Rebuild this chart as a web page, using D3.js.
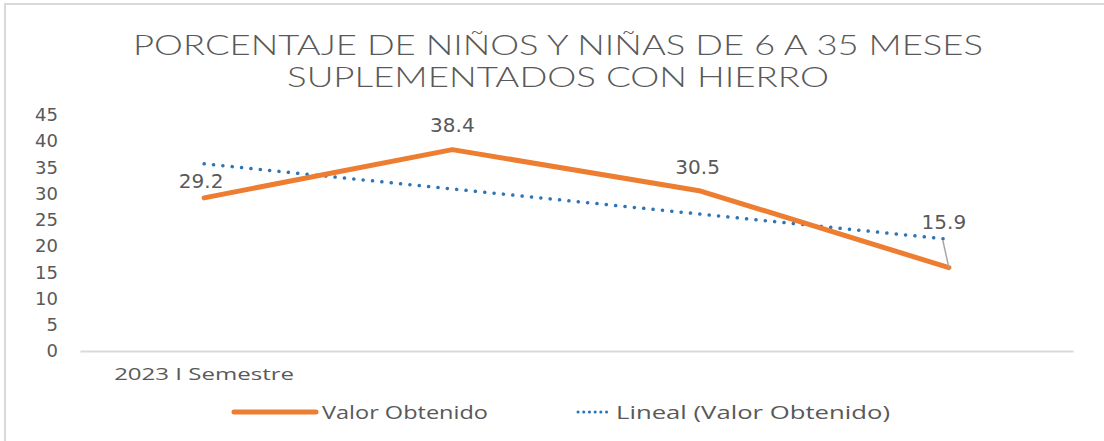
<!DOCTYPE html>
<html>
<head>
<meta charset="utf-8">
<script src="https://cdn.jsdelivr.net/npm/d3@7"></script>
<style>
  body { margin: 0; background: #fff; }
  text { fill: #595959; }
</style>
</head>
<body>
<svg id="chart"></svg>
<script>
// data
var categories = ["2023 I Semestre", "", "", ""];
var values = [29.2, 38.4, 30.5, 15.9];
// linear trendline ends (Lineal (Valor Obtenido))
var trendValues = [35.7, 21.3];
var yTicks = [0, 5, 10, 15, 20, 25, 30, 35, 40, 45];
var titleLines = ["PORCENTAJE DE NIÑOS Y NIÑAS DE 6 A 35 MESES", "SUPLEMENTADOS CON HIERRO"];
var legendNames = ["Valor Obtenido", "Lineal (Valor Obtenido)"];

var screen = {width: 1104, height: 441};
var margin = {left: 80, right: 31, top: 115, bottom: 90};

var svg = d3.select("#chart")
  .attr("width", screen.width)
  .attr("height", screen.height);

// chart frame
svg.append("rect")
  .attr("x", 5).attr("y", 4)
  .attr("width", screen.width + 10).attr("height", screen.height + 10)
  .attr("fill", "none")
  .attr("stroke", "#d9d9d9")
  .attr("stroke-width", 2);

// title
svg.selectAll(".title")
  .data(titleLines)
  .enter()
  .append("text")
  .attr("class", "title")
  .attr("x", 558)
  .attr("y", function(d, i) { return 55 + i * 32; })
  .attr("text-anchor", "middle")
  .attr("font-family", "Lato, 'Open Sans', sans-serif")
  .attr("font-weight", 300)
  .attr("font-size", 27)
  .attr("textLength", function(d, i) { return i == 0 ? 850 : 542; })
  .attr("lengthAdjust", "spacingAndGlyphs")
  .text(function(d) { return d; });

var x = d3.scaleBand()
  .domain(d3.range(categories.length))
  .range([margin.left, screen.width - margin.right]);

var y = d3.scaleLinear()
  .domain([0, 45])
  .range([screen.height - margin.bottom, margin.top]);

// y axis, no line
var yAxis = svg.append("g")
  .attr("transform", "translate(" + (margin.left - 22) + ",0)")
  .call(d3.axisLeft(y).tickValues(yTicks).tickSize(0).tickPadding(0));
yAxis.select(".domain").remove();
yAxis.selectAll("text")
  .attr("font-family", "'DejaVu Sans', sans-serif")
  .attr("font-size", 18)
  .attr("fill", "#595959");

// category axis
var xAxis = svg.append("g")
  .attr("transform", "translate(0," + y(0) + ")")
  .call(d3.axisBottom(x).tickFormat(function(i) { return categories[i]; }).tickSize(0).tickPadding(17));
xAxis.select(".domain")
  .attr("stroke", "#d9d9d9")
  .attr("stroke-width", 2);
xAxis.selectAll("text")
  .attr("font-family", "'Open Sans', sans-serif")
  .attr("font-size", 17)
  .attr("fill", "#595959")
  .attr("textLength", function(i) { return categories[i] ? 180 : null; })
  .attr("lengthAdjust", "spacingAndGlyphs");

var cx = function(i) { return x(i) + x.bandwidth() / 2; };

// trendline
svg.append("line")
  .attr("x1", cx(0)).attr("y1", y(trendValues[0]))
  .attr("x2", cx(categories.length - 1)).attr("y2", y(trendValues[1]))
  .attr("stroke", "#2e75b6")
  .attr("stroke-width", 3.5)
  .attr("stroke-linecap", "round")
  .attr("stroke-dasharray", "0.1 9.3");

// main series
var line = d3.line()
  .x(function(d, i) { return cx(i); })
  .y(function(d) { return y(d); });

svg.append("path")
  .datum(values)
  .attr("d", line)
  .attr("fill", "none")
  .attr("stroke", "#ed7d31")
  .attr("stroke-width", 5)
  .attr("stroke-linejoin", "round")
  .attr("stroke-linecap", "round");

// data labels
var labelOffsets = [[-3, -10], [0, -18], [-3, -17], [-5, -39]];
svg.selectAll(".dlabel")
  .data(values)
  .enter()
  .append("text")
  .attr("class", "dlabel")
  .attr("x", function(d, i) { return cx(i) + labelOffsets[i][0]; })
  .attr("y", function(d, i) { return y(d) + labelOffsets[i][1]; })
  .attr("text-anchor", "middle")
  .attr("font-family", "'DejaVu Sans', sans-serif")
  .attr("font-size", 20)
  .text(function(d) { return d.toFixed(1); });

// leader line for last label
var last = values.length - 1;
svg.append("line")
  .attr("x1", cx(last) - 6).attr("y1", y(values[last]) - 27)
  .attr("x2", cx(last)).attr("y2", y(values[last]))
  .attr("stroke", "#a6a6a6")
  .attr("stroke-width", 1.5);

// legend
var legend = svg.append("g").attr("transform", "translate(0,412)");
legend.append("line")
  .attr("x1", 234).attr("x2", 316)
  .attr("stroke", "#ed7d31").attr("stroke-width", 5).attr("stroke-linecap", "round");
legend.append("line")
  .attr("x1", 578).attr("x2", 612)
  .attr("stroke", "#2e75b6").attr("stroke-width", 3).attr("stroke-linecap", "round")
  .attr("stroke-dasharray", "0.1 5.6");
legend.selectAll(".ltext")
  .data(legendNames)
  .enter()
  .append("text")
  .attr("class", "ltext")
  .attr("x", function(d, i) { return i == 0 ? 322 : 616; })
  .attr("y", 7)
  .attr("font-family", "'Open Sans', sans-serif")
  .attr("font-size", 18)
  .attr("textLength", function(d, i) { return i == 0 ? 166 : 274; })
  .attr("lengthAdjust", "spacingAndGlyphs")
  .text(function(d) { return d; });
</script>
</body>
</html>
